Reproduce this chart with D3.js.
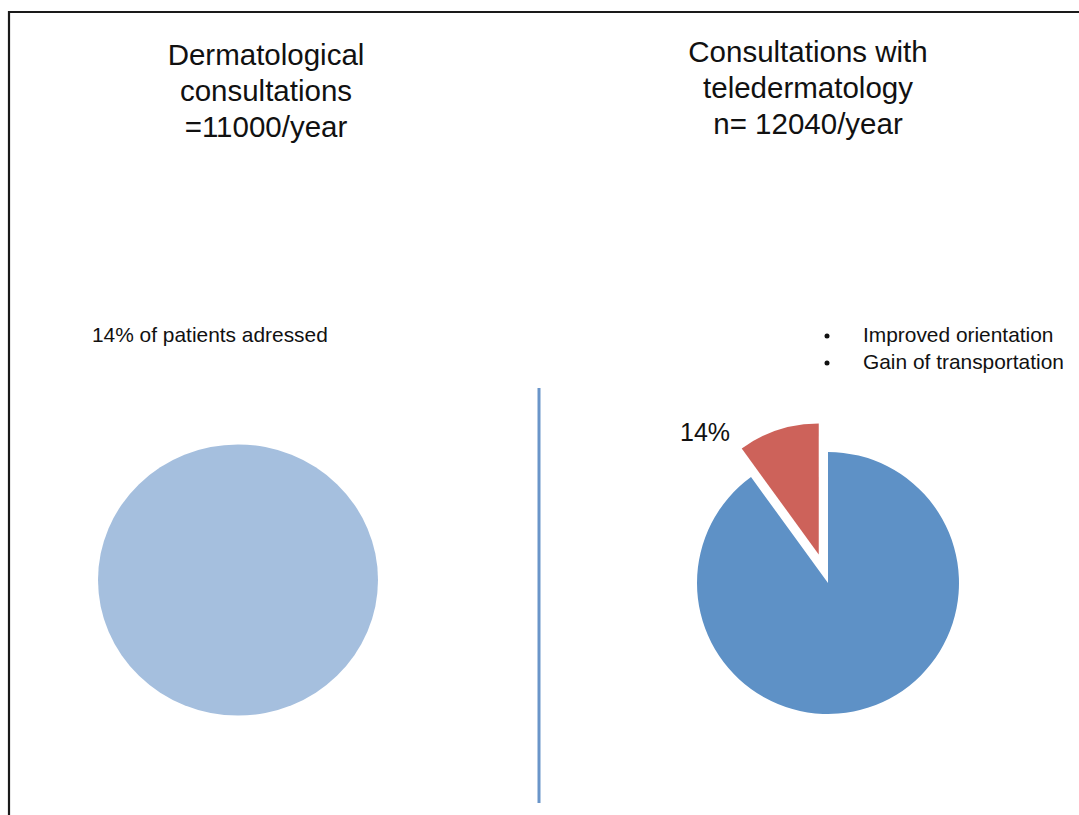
<!DOCTYPE html>
<html>
<head>
<meta charset="utf-8">
<script src="https://cdn.jsdelivr.net/npm/d3@7"></script>
<style>
  html, body { margin: 0; padding: 0; background: #fff; }
  svg { display: block; }
  text { font-family: "Liberation Sans", Arial, sans-serif; fill: #111; }
</style>
</head>
<body>
<div id="chart"></div>
<script>
// ---- data ----
const leftTitle = ["Dermatological", "consultations", "=11000/year"];
const rightTitle = ["Consultations with", "teledermatology", "n= 12040/year"];
const leftNote = "14% of patients adressed";
const bullets = ["Improved orientation", "Gain of transportation"];
const leftCategories = ["All consultations"];
const leftValues = [100];
const rightCategories = ["Other", "Addressed"];
const rightValues = [90, 10];
const rightSliceLabel = "14%";

// ---- drawing ----
const W = 1079, H = 815;
const svg = d3.select("#chart").append("svg").attr("width", W).attr("height", H);

// frame
svg.append("path").attr("d", "M9,816V12H1080").attr("fill", "none")
  .attr("stroke", "#1a1a1a").attr("stroke-width", 2.2);

// titles
function title(lines, cx, y0) {
  const t = svg.append("text").attr("text-anchor", "middle").style("font-size", "29.5px");
  lines.forEach((l, i) => t.append("tspan").attr("x", cx).attr("y", y0 + i * 36).text(l));
}
title(leftTitle, 266, 65);
title(rightTitle, 808, 62);

svg.append("text").attr("x", 92).attr("y", 342).style("font-size", "20.9px").text(leftNote);

const bl = svg.append("g");
bullets.forEach((b, i) => {
  bl.append("circle").attr("cx", 827).attr("cy", 336 + i * 27).attr("r", 2.5).attr("fill", "#111");
  bl.append("text").attr("x", 863).attr("y", 342 + i * 27).style("font-size", "20.9px").text(b);
});

// divider
svg.append("line").attr("x1", 539).attr("x2", 539).attr("y1", 388).attr("y2", 803)
  .attr("stroke", "#6a95c9").attr("stroke-width", 3);

// left pie (single slice)
const pie = d3.pie().sort(null).value(d => d);
const leftColor = d3.scaleOrdinal().domain(leftCategories).range(["#a5bfde"]);
const leftArc = d3.arc().innerRadius(0).outerRadius(140);
svg.append("g").attr("transform", "translate(238,580) scale(1,0.968)")
  .selectAll("path").data(pie(leftValues)).join("path")
  .attr("d", leftArc).attr("fill", (d, i) => leftColor(leftCategories[i]));

// right pie with exploded slice
const rightColor = d3.scaleOrdinal().domain(rightCategories).range(["#5e91c6", "#cd625a"]);
const rR = 131;
const rightArc = d3.arc().innerRadius(0).outerRadius(rR);
const explode = [0, 30];
svg.append("g").attr("transform", "translate(828,583)")
  .selectAll("path").data(pie(rightValues)).join("path")
  .attr("d", rightArc)
  .attr("fill", (d, i) => rightColor(rightCategories[i]))
  .attr("transform", (d, i) => {
    const a = (d.startAngle + d.endAngle) / 2;
    const e = explode[i];
    return `translate(${e * Math.sin(a)},${-e * Math.cos(a)})`;
  });

svg.append("text").attr("x", 680).attr("y", 441).style("font-size", "25px").text(rightSliceLabel);
</script>
</body>
</html>
